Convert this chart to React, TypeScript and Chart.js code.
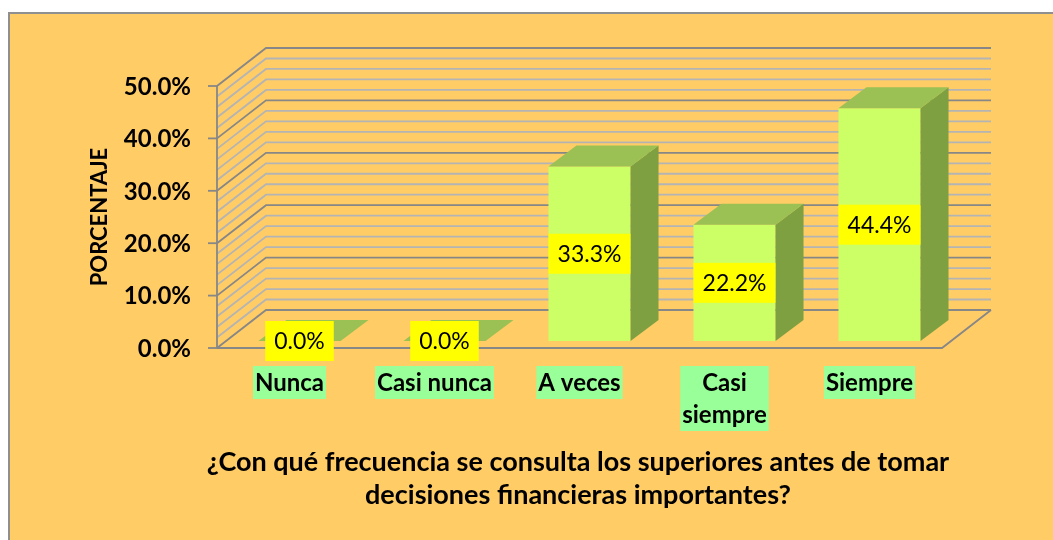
import React, { useEffect, useRef } from 'react';
import { Chart, registerables } from 'chart.js';

Chart.register(...registerables);

// ---- data ----
const categories = ['Nunca', 'Casi nunca', 'A veces', 'Casi siempre', 'Siempre'];
const categoryLines = [['Nunca'], ['Casi nunca'], ['A veces'], ['Casi', 'siempre'], ['Siempre']];
const values = [0.0, 0.0, 33.3, 22.2, 44.4];
const yTicks = [0, 10, 20, 30, 40, 50];
const yMinorStep = 2;
const yTitle = 'PORCENTAJE';
const xTitleLines = [
  '¿Con qué frecuencia se consulta los superiores antes de tomar',
  'decisiones financieras importantes?',
];

// ---- layout / style ----
const W = 1053;
const H = 540;
const WALL_DX = 49;
const WALL_DY = -38;
const BAR_DX0 = 10;
const BAR_DY0 = -7;
const BAR_DDX = 28;
const BAR_DDY = -21;
const FONT = 'Lato, "Open Sans", sans-serif';

const pct = (v: number) => v.toFixed(1) + '%';

const excel3d = {
  id: 'excel3d',
  beforeDraw(chart: any) {
    const ctx = chart.ctx;
    ctx.save();
    ctx.fillStyle = '#ffffff';
    ctx.fillRect(0, 0, W, H);
    ctx.fillStyle = '#FFCC66';
    ctx.fillRect(9, 13, W, H);
    ctx.strokeStyle = '#8f8f8f';
    ctx.lineWidth = 2;
    ctx.beginPath();
    ctx.moveTo(9, H + 5);
    ctx.lineTo(9, 13);
    ctx.lineTo(W + 5, 13);
    ctx.stroke();
    ctx.restore();
  },
  beforeDatasetsDraw(chart: any) {
    const { ctx, chartArea, scales } = chart;
    const y = scales.y;
    const L = chartArea.left;
    const R = chartArea.right;
    const B = chartArea.bottom;
    const T = chartArea.top;
    ctx.save();
    ctx.lineCap = 'butt';
    ctx.lineJoin = 'miter';
    const gridLine = (v: number, color: string) => {
      const py = y.getPixelForValue(v);
      ctx.strokeStyle = color;
      ctx.lineWidth = 1.8;
      ctx.beginPath();
      ctx.moveTo(L, py);
      ctx.lineTo(L + WALL_DX, py + WALL_DY);
      ctx.lineTo(R + WALL_DX, py + WALL_DY);
      ctx.stroke();
    };
    for (let v = y.min; v <= y.max + 1e-9; v += yMinorStep) {
      if (!yTicks.some((t) => Math.abs(t - v) < 1e-6)) gridLine(v, '#B4B4B4');
    }
    yTicks.forEach((t) => gridLine(t, '#878787'));
    // floor front edge
    ctx.strokeStyle = '#878787';
    ctx.lineWidth = 1.8;
    ctx.beginPath();
    ctx.moveTo(L, B);
    ctx.lineTo(R, B);
    ctx.lineTo(R + WALL_DX, B + WALL_DY);
    ctx.stroke();
    // axis
    ctx.beginPath();
    ctx.moveTo(L, T);
    ctx.lineTo(L, B);
    ctx.stroke();
    yTicks.forEach((t) => {
      const py = y.getPixelForValue(t);
      ctx.beginPath();
      ctx.moveTo(L - 9, py);
      ctx.lineTo(L, py);
      ctx.stroke();
    });
    // tick labels
    ctx.fillStyle = '#000';
    ctx.font = `bold 24px ${FONT}`;
    ctx.textAlign = 'right';
    ctx.textBaseline = 'middle';
    yTicks.forEach((t) => {
      ctx.fillText(pct(t), L - 26, y.getPixelForValue(t) + 1);
    });
    // y title
    ctx.save();
    ctx.translate(100, 217);
    ctx.rotate(-Math.PI / 2);
    ctx.textAlign = 'center';
    ctx.font = `bold 22px ${FONT}`;
    ctx.fillText(yTitle, 0, 0);
    ctx.restore();
    ctx.restore();
  },
  afterDatasetsDraw(chart: any) {
    const { ctx, scales } = chart;
    const meta = chart.getDatasetMeta(0);
    ctx.save();
    const boxes: any[] = [];
    meta.data.forEach((el: any, i: number) => {
      const p = el.getProps(['x', 'y', 'base', 'width'], true);
      const x0 = p.x - p.width / 2 + BAR_DX0;
      const x1 = p.x + p.width / 2 + BAR_DX0;
      const yT = p.y + BAR_DY0;
      const yB = p.base + BAR_DY0;
      // front
      ctx.fillStyle = '#CCFF66';
      ctx.fillRect(x0, yT, x1 - x0, yB - yT);
      // side
      ctx.fillStyle = '#7FA040';
      ctx.beginPath();
      ctx.moveTo(x1, yT);
      ctx.lineTo(x1 + BAR_DDX, yT + BAR_DDY);
      ctx.lineTo(x1 + BAR_DDX, yB + BAR_DDY);
      ctx.lineTo(x1, yB);
      ctx.closePath();
      ctx.fill();
      // top
      ctx.fillStyle = '#9BC154';
      ctx.beginPath();
      ctx.moveTo(x0, yT);
      ctx.lineTo(x0 + BAR_DDX, yT + BAR_DDY);
      ctx.lineTo(x1 + BAR_DDX, yT + BAR_DDY);
      ctx.lineTo(x1, yT);
      ctx.closePath();
      ctx.fill();
      boxes.push({ cx: (x0 + x1) / 2, cy: (yT + yB) / 2, text: pct(values[i]) });
    });
    // data labels
    ctx.font = `23px ${FONT}`;
    ctx.textAlign = 'center';
    ctx.textBaseline = 'middle';
    boxes.forEach((b) => {
      const tw = ctx.measureText(b.text).width;
      const bw = tw + 18;
      const bh = 40;
      ctx.fillStyle = '#FFFF00';
      ctx.fillRect(b.cx - bw / 2, b.cy - bh / 2, bw, bh);
      ctx.fillStyle = '#000';
      ctx.fillText(b.text, b.cx, b.cy + 1);
    });
    // category labels
    const x = scales.x;
    ctx.font = `bold 24px ${FONT}`;
    categoryLines.forEach((lines, i) => {
      const cx = x.getPixelForValue(i);
      const lh = 32;
      const top = 366;
      const tw = Math.max(...lines.map((l) => ctx.measureText(l).width));
      const bw = tw + 4;
      const bh = lines.length * lh + 1;
      ctx.fillStyle = '#99FF99';
      ctx.fillRect(cx - bw / 2, top, bw, bh);
      ctx.fillStyle = '#000';
      lines.forEach((l, k) => ctx.fillText(l, cx, top + lh / 2 + k * lh + 1));
    });
    // x title
    ctx.font = `bold 27px ${FONT}`;
    ctx.fillStyle = '#000';
    xTitleLines.forEach((l, k) => ctx.fillText(l, 578, 462 + k * 33));
    ctx.restore();
  },
};

export default function App() {
  const ref = useRef<HTMLCanvasElement>(null);
  useEffect(() => {
    if (!ref.current) return;
    const chart = new Chart(ref.current, {
      type: 'bar',
      data: {
        labels: categories,
        datasets: [
          {
            data: values,
            backgroundColor: 'rgba(0,0,0,0)',
            borderWidth: 0,
            categoryPercentage: 1,
            barPercentage: 0.566,
          },
        ],
      },
      options: {
        responsive: false,
        animation: false,
        devicePixelRatio: 1,
        layout: { padding: { left: 217, right: 111, top: 86, bottom: 192 } },
        plugins: {
          legend: { display: false },
          tooltip: { enabled: false },
          title: { display: false },
        },
        scales: {
          x: { display: false },
          y: { display: false, min: 0, max: 50, ticks: { stepSize: 10 } },
        },
      },
      plugins: [excel3d],
    } as any);
    return () => chart.destroy();
  }, []);
  return (
    <div style={{ position: 'fixed', left: 0, top: 0, width: W, height: H, overflow: 'hidden' }}>
      <canvas ref={ref} width={W} height={H} style={{ display: 'block', width: W, height: H }} />
    </div>
  );
}
